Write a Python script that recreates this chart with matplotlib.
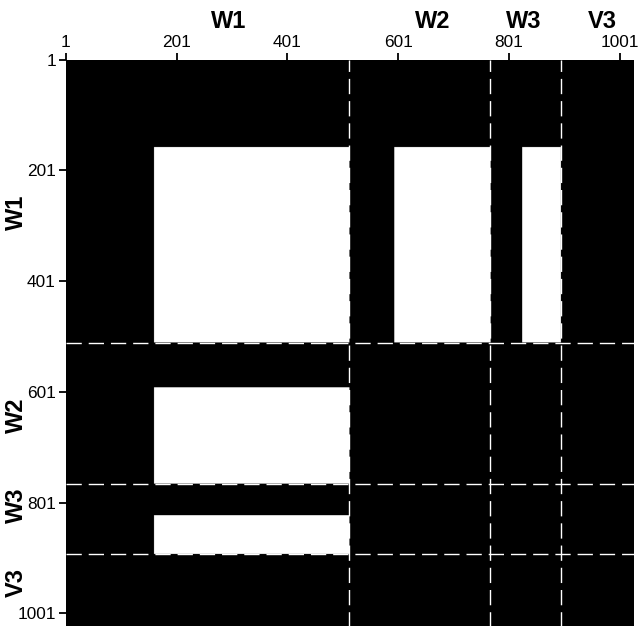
import numpy as np
import matplotlib.pyplot as plt

plt.rcParams['font.family'] = ['Liberation Sans', 'DejaVu Sans']

# block layout of the connectivity matrix
groups = ["W1", "W2", "W3", "V3"]
group_sizes = [512, 255, 127, 132]
# active (connected) unit ranges, 1-based inclusive
w1_active = (160, 512)
w2_active = (594, 767)
w3_active = (825, 894)

tick_values = [1, 201, 401, 601, 801, 1001]
# where the group names sit along each axis
top_label_pos = [295, 663, 828, 969]
left_label_pos = [277, 644, 805, 945]

n = sum(group_sizes)
idx = np.arange(1, n + 1)


def in_range(r):
    return (idx >= r[0]) & (idx <= r[1])


a1 = in_range(w1_active)
a23 = in_range(w2_active) | in_range(w3_active)
M = (np.outer(a1, a1) | np.outer(a1, a23) | np.outer(a23, a1)).astype(float)

fig = plt.figure(figsize=(6.38, 6.26), dpi=100)
ax = fig.add_axes([65.7 / 638, (626 - 627.5) / 626, 568 / 638, 568 / 626])
ax.imshow(M, cmap="gray", vmin=0, vmax=1, extent=(0.5, n + 0.5, n + 0.5, 0.5),
          aspect="auto", interpolation="antialiased")
ax.set_xlim(0.5, n + 0.5)
ax.set_ylim(n + 0.5, 0.5)

bounds = np.cumsum(group_sizes)[:-1] + 0.5
for b in bounds:
    ax.axvline(b, color="white", lw=1.0, ls=(0, (11, 5)))
    ax.axhline(b, color="white", lw=1.0, ls=(0, (11, 5)))

ax.xaxis.tick_top()
ax.set_xticks(tick_values)
ax.set_yticks(tick_values)
ax.set_xticklabels([str(t) for t in tick_values])
ax.set_yticklabels([str(t) for t in tick_values])
ax.tick_params(direction="out", length=5, width=1.3, labelsize=12.4, pad=2)
for s in ax.spines.values():
    s.set_visible(False)

for name, x in zip(groups, top_label_pos):
    ax.text(x, -56, name, ha="center", va="baseline", fontsize=17,
            fontweight="bold")
for name, y in zip(groups, left_label_pos):
    ax.text(-89, y, name, ha="center", va="center", rotation=90, fontsize=17,
            fontweight="bold")

fig.savefig("out.png", dpi=100)
